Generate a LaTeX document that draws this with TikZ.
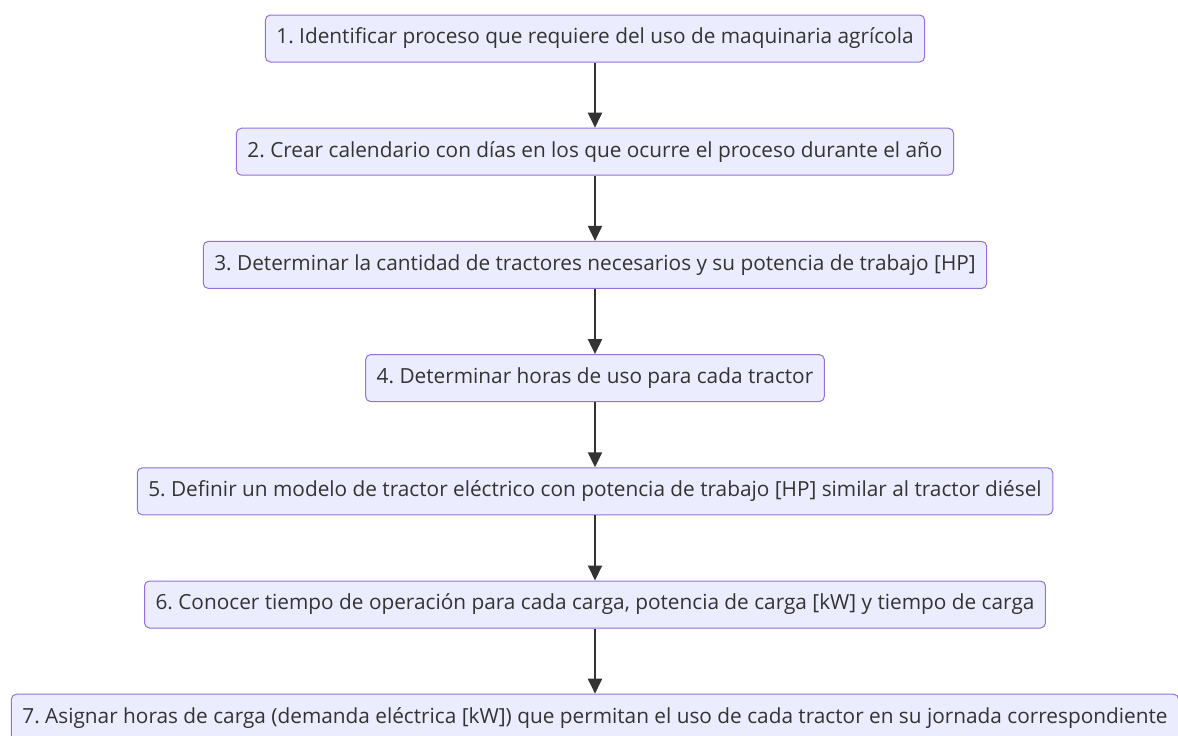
\documentclass[tikz,border=0pt]{standalone}
\usepackage{fontspec}
\setmainfont{Open Sans}
\usepackage{tikz}
\usetikzlibrary{positioning,arrows.meta}
\definecolor{boxfill}{HTML}{ECECFF}
\definecolor{boxline}{HTML}{9370DB}
\definecolor{ink}{HTML}{333333}
\frenchspacing

\begin{document}
\begin{tikzpicture}[
    stepbox/.style={rectangle, draw=boxline, fill=boxfill, line width=1pt, rounded corners=5pt,
        minimum height=47pt, inner xsep=11pt, text=ink, font=\fontsize{20.8}{24}\selectfont},
    flow/.style={-{Triangle[length=15pt, width=14pt]}, line width=2pt, draw=ink},
    node distance=65.2pt
]
\useasboundingbox (0,0) rectangle (1178pt,-736pt);

\node[stepbox] (s1) at (595pt,-38.5pt) {1. Identificar proceso que requiere del uso de maquinaria agrícola};
\node[stepbox, below=of s1] (s2) {2. Crear calendario con días en los que ocurre el proceso durante el año};
\node[stepbox, below=of s2] (s3) {3. Determinar la cantidad de tractores necesarios y su potencia de trabajo [HP]};
\node[stepbox, below=of s3] (s4) {4. Determinar horas de uso para cada tractor};
\node[stepbox, below=of s4] (s5) {5. Definir un modelo de tractor eléctrico con potencia de trabajo [HP] similar al tractor diésel};
\node[stepbox, below=of s5] (s6) {6. Conocer tiempo de operación para cada carga, potencia de carga [kW] y tiempo de carga};
\node[stepbox, below=of s6] (s7) {7. Asignar horas de carga (demanda eléctrica [kW]) que permitan el uso de cada tractor en su jornada correspondiente};

\foreach \a/\b in {s1/s2,s2/s3,s3/s4,s4/s5,s5/s6,s6/s7}
    \draw[flow] (\a) -- (\b);

\end{tikzpicture}
\end{document}
